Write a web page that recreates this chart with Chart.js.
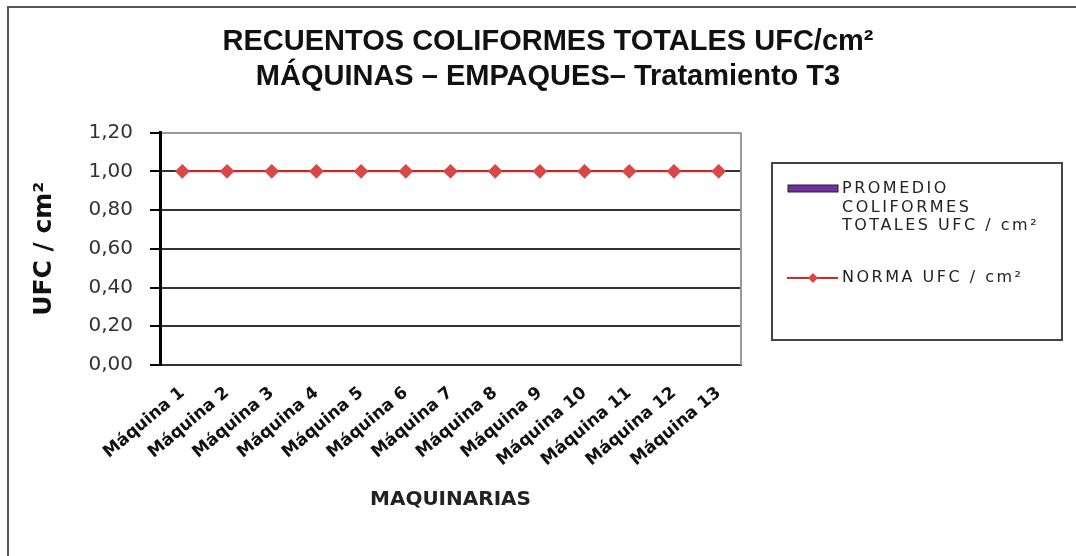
<!DOCTYPE html>
<html>
<head>
<meta charset="utf-8">
<script src="https://cdn.jsdelivr.net/npm/chart.js@4.4.1/dist/chart.umd.min.js"></script>
<style>
  html, body { margin: 0; padding: 0; background: #fff; }
  #wrap { width: 1076px; height: 556px; }
</style>
</head>
<body>
<div id="wrap"><canvas id="chart"></canvas></div>
<script>
const categories = ["Máquina 1", "Máquina 2", "Máquina 3", "Máquina 4", "Máquina 5", "Máquina 6", "Máquina 7",
  "Máquina 8", "Máquina 9", "Máquina 10", "Máquina 11", "Máquina 12", "Máquina 13"];
const promedio = [0, 0, 0, 0, 0, 0, 0, 0, 0, 0, 0, 0, 0];
const norma = [1, 1, 1, 1, 1, 1, 1, 1, 1, 1, 1, 1, 1];
const seriesNames = ["PROMEDIO COLIFORMES TOTALES UFC / cm²", "NORMA UFC / cm²"];
const titleLines = ["RECUENTOS COLIFORMES TOTALES UFC/cm²", "MÁQUINAS – EMPAQUES– Tratamiento T3"];

// outer frame, plot border and the boxed legend on the right
const frame = {
  id: "frame",
  afterDraw(chart) {
    const ctx = chart.ctx;
    const a = chart.chartArea;
    ctx.save();
    ctx.strokeStyle = "#555";
    ctx.lineWidth = 2;
    ctx.strokeRect(8, 7, 1200, 700);

    ctx.strokeStyle = "#999";
    ctx.beginPath();
    ctx.moveTo(a.right, a.top);
    ctx.lineTo(a.right, a.bottom);
    ctx.stroke();

    ctx.strokeStyle = "#444";
    ctx.strokeRect(772, 163, 290, 177);

    ctx.font = "16px 'DejaVu Sans'";
    ctx.letterSpacing = "2.5px";
    ctx.textBaseline = "middle";
    let y = 189;
    chart.data.datasets.forEach((ds) => {
      const words = ds.label.split(" ");
      const lines = [];
      let cur = "";
      words.forEach((w) => {
        const t = cur ? cur + " " + w : w;
        if (cur && ctx.measureText(t).width > 200 && lines.length < 2) { lines.push(cur); cur = w; }
        else cur = t;
      });
      lines.push(cur);
      if (ds.type === "bar") {
        ctx.fillStyle = ds.backgroundColor;
        ctx.fillRect(788, y - 4, 50, 7);
        ctx.strokeStyle = "#222";
        ctx.lineWidth = 1;
        ctx.strokeRect(788, y - 4, 50, 7);
      } else {
        ctx.strokeStyle = ds.borderColor;
        ctx.lineWidth = 2;
        ctx.beginPath();
        ctx.moveTo(787, y);
        ctx.lineTo(838, y);
        ctx.stroke();
        ctx.fillStyle = ds.pointBackgroundColor;
        ctx.beginPath();
        ctx.moveTo(813, y - 5);
        ctx.lineTo(818, y);
        ctx.lineTo(813, y + 5);
        ctx.lineTo(808, y);
        ctx.closePath();
        ctx.fill();
      }
      ctx.fillStyle = "#222";
      lines.forEach((l, i) => ctx.fillText(l, 842, y + i * 18.5));
      y += lines.length * 18.5 + 33.5;
    });
    ctx.restore();
  }
};

new Chart(document.getElementById("chart"), {
  data: {
    labels: categories,
    datasets: [
      {
        type: "bar",
        label: seriesNames[0],
        data: promedio,
        backgroundColor: "#7030a0",
        borderColor: "#222",
        borderWidth: 0,
        order: 2,
      },
      {
        type: "line",
        label: seriesNames[1],
        data: norma,
        borderColor: "#d42a2a",
        borderWidth: 2,
        pointStyle: "rectRot",
        pointRadius: 6,
        pointBackgroundColor: "#d94848",
        pointBorderColor: "#d94848",
        order: 1,
      },
    ],
  },
  options: {
    responsive: true,
    maintainAspectRatio: false,
    animation: false,
    layout: { padding: { left: 20, top: 0, right: 0, bottom: 0 } },
    plugins: {
      legend: { display: false },
      tooltip: { enabled: false },
      title: {
        display: true,
        text: titleLines,
        color: "#111",
        font: { family: "'Liberation Sans', Arial", size: 29, weight: "bold", lineHeight: 1.2 },
        padding: { top: 25, bottom: 38 },
      },
    },
    scales: {
      x: {
        grid: { display: false },
        border: { color: "#333", width: 2 },
        ticks: {
          color: "#111",
          font: { family: "'DejaVu Sans'", size: 17, weight: "bold" },
          minRotation: 40,
          maxRotation: 40,
          padding: 10,
          autoSkip: false,
        },
        title: {
          display: true,
          text: "MAQUINARIAS",
          color: "#222",
          font: { family: "'DejaVu Sans'", size: 20, weight: "bold" },
          padding: { top: 0, bottom: 44 },
        },
        afterFit: (s) => { s.height = 191; },
      },
      y: {
        min: 0,
        max: 1.2,
        ticks: {
          stepSize: 0.2,
          color: "#333",
          font: { family: "'DejaVu Sans'", size: 20 },
          padding: 17,
          callback: (v) => v.toFixed(2).replace(".", ","),
        },
        grid: {
          color: (c) => (c.tick && c.tick.value >= 1.19 ? "#9a9a9a" : "#333"),
          lineWidth: 2,
          tickLength: 10,
          tickColor: "#000",
          tickWidth: 2,
        },
        border: { color: "#000", width: 3 },
        title: {
          display: true,
          text: "UFC / cm²",
          color: "#111",
          font: { family: "'DejaVu Sans'", size: 25, weight: "bold" },
          padding: { top: 9, bottom: 0 },
        },
        afterFit: (s) => { s.width = 140; },
      },
      side: {
        position: "right",
        display: true,
        ticks: { display: false },
        grid: { display: false },
        border: { display: false },
        afterFit: (s) => { s.width = 335; },
      },
    },
  },
  plugins: [frame],
});
</script>
</body>
</html>
